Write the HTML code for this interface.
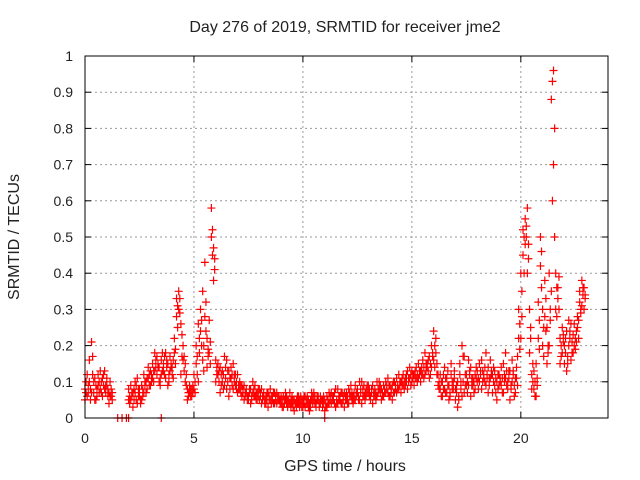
<!DOCTYPE html>
<html><head><meta charset="utf-8"><style>
body{margin:0;background:#fff;}
svg{display:block;font-family:"Liberation Sans",sans-serif;}
</style></head><body>
<svg id="chart" width="640" height="480">
<text x="345" y="32" text-anchor="middle" font-size="16" fill="#222">Day 276 of 2019, SRMTID for receiver jme2</text>
<text x="345" y="471" text-anchor="middle" font-size="16" fill="#222">GPS time / hours</text>
<text transform="translate(19,237) rotate(-90)" text-anchor="middle" font-size="16" fill="#222">SRMTID / TECUs</text>
<g id="grid"></g><g id="ticks"></g><g id="marks"></g>
<rect x="85" y="56" width="523" height="362" fill="none" stroke="#000" stroke-width="1"/>
</svg>
<script>
const xTicks=[0,5,10,15,20];
const yTicks=[0,0.1,0.2,0.3,0.4,0.5,0.6,0.7,0.8,0.9,1];
const yTickLabels=["0","0.1","0.2","0.3","0.4","0.5","0.6","0.7","0.8","0.9","1"];
const startHour=0, stepHour=0.1;
const seriesA=[0.08,0.06,0.10,0.21,0.07,0.09,0.12,0.08,0.11,0.13,
0.09,0.07,0.06,null,null,null,null,null,null,null,
0.08,0.05,0.07,0.10,0.04,0.06,0.09,0.12,0.07,0.11,
0.13,0.15,0.18,0.12,0.14,0.16,0.13,0.11,0.15,0.17,
0.14,0.18,0.28,0.35,0.26,0.20,0.15,0.08,0.07,0.06,
0.12,0.15,0.26,0.30,0.35,0.43,0.22,0.18,0.58,0.47,
0.16,0.12,0.14,0.10,0.17,0.08,0.13,0.11,0.15,0.09,
0.12,0.08,0.06,0.09,0.07,0.05,0.08,0.10,0.06,0.07,
0.05,0.08,0.06,0.04,0.07,0.05,0.06,0.04,0.07,0.05,
0.04,0.06,0.05,0.03,0.07,0.04,0.05,0.03,0.06,0.04,
0.05,0.03,0.06,0.04,0.07,0.05,0.03,0.06,0.04,0.05,
0.02,0.06,0.04,0.07,0.05,0.03,0.08,0.06,0.04,0.07,
0.05,0.08,0.06,0.04,0.09,0.07,0.05,0.10,0.06,0.08,
0.07,0.05,0.09,0.06,0.10,0.08,0.05,0.09,0.07,0.11,
0.06,0.09,0.07,0.11,0.08,0.10,0.12,0.09,0.13,0.11,
0.10,0.12,0.14,0.11,0.13,0.16,0.12,0.15,0.17,0.14,
0.24,0.18,0.12,0.08,0.10,0.14,0.07,0.09,0.12,0.08,
0.05,0.10,0.15,0.20,0.07,0.12,0.09,0.14,0.11,0.08,
0.13,0.10,0.16,0.12,0.09,0.14,0.11,0.07,0.13,0.10,
0.12,0.09,0.15,0.11,0.08,0.13,0.10,0.06,0.14,0.22,
0.40,0.52,0.48,0.58,0.30,0.12,0.08,0.15,0.22,0.50,
0.30,0.38,0.25,0.20,0.35,0.96,0.40,0.33,0.22,0.18,
0.15,0.24,0.20,0.26,0.18,0.22,0.28,0.32,0.38,0.30];
const seriesB=[0.05,0.12,0.16,0.07,0.10,0.05,0.09,0.13,0.06,0.08,
0.11,0.04,0.08,null,null,null,null,null,null,null,
0.05,0.09,0.03,0.07,0.11,0.08,0.05,0.07,0.10,0.14,
0.09,0.11,0.13,0.17,0.10,0.12,0.15,0.18,0.09,0.13,
0.12,0.22,0.33,0.30,0.12,0.16,0.10,0.05,0.09,0.08,
0.08,0.20,0.10,0.24,0.16,0.28,0.14,0.27,0.50,0.38,
0.10,0.15,0.07,0.13,0.09,0.16,0.06,0.14,0.08,0.12,
0.07,0.10,0.09,0.05,0.08,0.06,0.04,0.07,0.09,0.05,
0.08,0.04,0.07,0.06,0.03,0.08,0.05,0.07,0.04,0.06,
0.06,0.03,0.07,0.05,0.04,0.06,0.02,0.05,0.04,0.06,
0.03,0.06,0.04,0.02,0.05,0.07,0.04,0.05,0.06,0.03,
0.05,0.03,0.07,0.04,0.06,0.08,0.04,0.05,0.07,0.03,
0.07,0.04,0.09,0.06,0.05,0.08,0.10,0.04,0.09,0.06,
0.09,0.06,0.04,0.08,0.06,0.10,0.08,0.06,0.10,0.07,
0.09,0.05,0.10,0.07,0.12,0.07,0.09,0.11,0.08,0.14,
0.13,0.09,0.11,0.15,0.10,0.12,0.18,0.14,0.11,0.20,
0.16,0.22,0.09,0.12,0.06,0.08,0.11,0.05,0.15,0.10,
0.08,0.03,0.12,0.06,0.17,0.09,0.16,0.06,0.09,0.12,
0.10,0.15,0.08,0.11,0.18,0.07,0.16,0.12,0.09,0.05,
0.09,0.14,0.07,0.18,0.10,0.05,0.16,0.09,0.11,0.30,
0.22,0.45,0.55,0.40,0.18,0.08,0.13,0.06,0.32,0.42,
0.20,0.28,0.15,0.40,0.88,0.70,0.30,0.36,0.15,0.25,
0.20,0.13,0.27,0.16,0.23,0.19,0.25,0.35,0.31,0.36];
const seriesC=[0.07,0.09,0.05,0.17,0.11,0.06,0.10,0.07,0.12,0.09,
0.06,0.10,0.05,null,null,null,null,null,null,null,
0.06,0.07,0.05,0.09,0.06,0.04,0.08,0.10,0.08,0.12,
0.10,0.13,0.16,0.14,0.11,0.13,0.17,0.14,0.12,0.15,
0.16,0.15,0.31,0.33,0.23,0.17,0.12,0.07,0.08,0.07,
0.10,0.17,0.22,0.27,0.20,0.32,0.19,0.21,0.52,0.44,
0.14,0.10,0.12,0.08,0.14,0.10,0.11,0.09,0.12,0.08,
0.09,0.07,0.08,0.06,0.06,0.07,0.06,0.08,0.05,0.08,
0.06,0.06,0.05,0.05,0.06,0.04,0.07,0.05,0.05,0.04,
0.05,0.04,0.04,0.05,0.05,0.03,0.04,0.04,0.05,0.03,
0.04,0.05,0.05,0.03,0.04,0.06,0.05,0.04,0.05,0.04,
0.04,0.05,0.05,0.06,0.04,0.05,0.06,0.07,0.05,0.06,
0.06,0.06,0.07,0.05,0.07,0.06,0.07,0.08,0.07,0.07,
0.08,0.07,0.07,0.07,0.08,0.07,0.07,0.08,0.08,0.09,
0.08,0.07,0.09,0.09,0.10,0.09,0.10,0.10,0.11,0.12,
0.12,0.11,0.12,0.13,0.12,0.14,0.15,0.13,0.15,0.17,
0.20,0.15,0.10,0.10,0.08,0.11,0.09,0.07,0.10,0.11,
0.07,0.06,0.10,0.17,0.12,0.10,0.12,0.09,0.10,0.11,
0.11,0.12,0.13,0.10,0.12,0.11,0.13,0.10,0.11,0.08,
0.10,0.11,0.12,0.09,0.13,0.08,0.12,0.11,0.17,0.26,
0.35,0.50,0.53,0.44,0.25,0.15,0.10,0.11,0.27,0.46,
0.25,0.33,0.20,0.30,0.93,0.80,0.36,0.30,0.20,0.21,
0.18,0.17,0.22,0.21,0.20,0.24,0.22,0.30,0.34,0.33];
const seriesD=[0.10,0.07,0.08,0.12,0.05,0.08,0.07,0.10,0.09,0.07,
0.08,0.06,0.07,null,null,null,null,null,null,null,
0.04,0.06,0.08,0.05,0.08,0.05,0.06,0.09,0.11,0.09,
0.12,0.10,0.14,0.15,0.09,0.18,0.12,0.16,0.10,0.14,
0.11,0.19,0.25,0.29,0.17,0.13,0.09,0.06,0.06,0.09,
0.07,0.12,0.18,0.20,0.13,0.24,0.17,0.15,0.45,0.41,
0.12,0.13,0.09,0.12,0.11,0.13,0.08,0.12,0.10,0.10,
0.08,0.09,0.07,0.07,0.05,0.08,0.05,0.06,0.07,0.06,
0.07,0.05,0.04,0.07,0.05,0.06,0.04,0.06,0.06,0.05,
0.03,0.05,0.06,0.04,0.03,0.05,0.04,0.06,0.03,0.05,
0.06,0.04,0.03,0.05,0.06,0.04,0.06,0.03,0.05,0.06,
0.03,0.04,0.06,0.05,0.07,0.04,0.05,0.04,0.06,0.05,
0.04,0.07,0.05,0.07,0.06,0.05,0.08,0.06,0.05,0.09,
0.06,0.08,0.06,0.05,0.07,0.09,0.06,0.07,0.09,0.06,
0.07,0.10,0.08,0.08,0.09,0.11,0.08,0.12,0.10,0.09,
0.11,0.13,0.10,0.12,0.14,0.11,0.13,0.16,0.12,0.18,
0.14,0.12,0.08,0.06,0.12,0.07,0.13,0.06,0.08,0.13,
0.09,0.05,0.08,0.10,0.09,0.07,0.13,0.11,0.07,0.14,
0.08,0.13,0.10,0.14,0.11,0.09,0.12,0.14,0.07,0.12,
0.11,0.07,0.10,0.13,0.11,0.09,0.13,0.07,0.09,0.19,
0.28,0.40,0.50,0.48,0.22,0.10,0.06,0.09,0.19,0.36,
0.17,0.24,0.18,0.27,0.60,0.50,0.28,0.39,0.17,0.23,
0.22,0.15,0.24,0.18,0.26,0.21,0.27,0.29,0.36,0.34];
const zeroHours=[1.5,1.7,1.9,2.0,3.5,11.0];
const zeroValues=[0,0,0,0,0,0];

const X0=85,X1=608,Y0=418,Y1=56,XMAX=24,YMAX=1;
const xs=h=>X0+(X1-X0)*h/XMAX;
const ys=v=>Y0-(Y0-Y1)*v/YMAX;
const NS="http://www.w3.org/2000/svg";
function mk(tag,attrs,parent){const e=document.createElementNS(NS,tag);for(const k in attrs)e.setAttribute(k,attrs[k]);parent.appendChild(e);return e;}
const grid=document.getElementById('grid'),ticks=document.getElementById('ticks'),marks=document.getElementById('marks');
xTicks.forEach(t=>{
  const x=xs(t);
  if(t>0){const g=mk('line',{x1:x,x2:x,y1:Y0,y2:Y1,stroke:'#999','stroke-dasharray':'2,3'},grid);
  
  }
  mk('line',{x1:x,x2:x,y1:Y0,y2:Y0-6,stroke:'#000'},ticks);
  mk('line',{x1:x,x2:x,y1:Y1,y2:Y1+6,stroke:'#000'},ticks);
  const l=mk('text',{x:x,y:443,'text-anchor':'middle','font-size':14,fill:'#222'},ticks);
  l.textContent=String(t);
  
  
});
yTicks.forEach((t,i)=>{
  const y=ys(t);
  if(t>0&&t<1){const g=mk('line',{x1:X0,x2:X1,y1:y,y2:y,stroke:'#999','stroke-dasharray':'2,3'},grid);
  
  }
  mk('line',{x1:X0,x2:X0+6,y1:y,y2:y,stroke:'#000'},ticks);
  mk('line',{x1:X1,x2:X1-6,y1:y,y2:y,stroke:'#000'},ticks);
  const l=mk('text',{x:73,y:y+5,'text-anchor':'end','font-size':14,fill:'#222'},ticks);
  l.textContent=yTickLabels[i];
  
  
});
function cross(h,v,color){
  const x=xs(h),y=ys(v);
  const p=mk('path',{d:`M${x-4},${y}H${x+4}M${x},${y-4}V${y+4}`,stroke:color,'stroke-width':1.2,fill:'none'},marks);
  
  
}
[seriesA,seriesB].forEach(s=>s.forEach((v,i)=>{if(v!==null)cross(startHour+i*stepHour,v,'#f00');}));
[seriesC,seriesD].forEach(s=>s.forEach((v,i)=>{if(v!==null)cross(startHour+i*stepHour+0.05,v,'#f00');}));
zeroHours.forEach((h,i)=>cross(h,zeroValues[i],'#f00'));
</script>
</body></html>
